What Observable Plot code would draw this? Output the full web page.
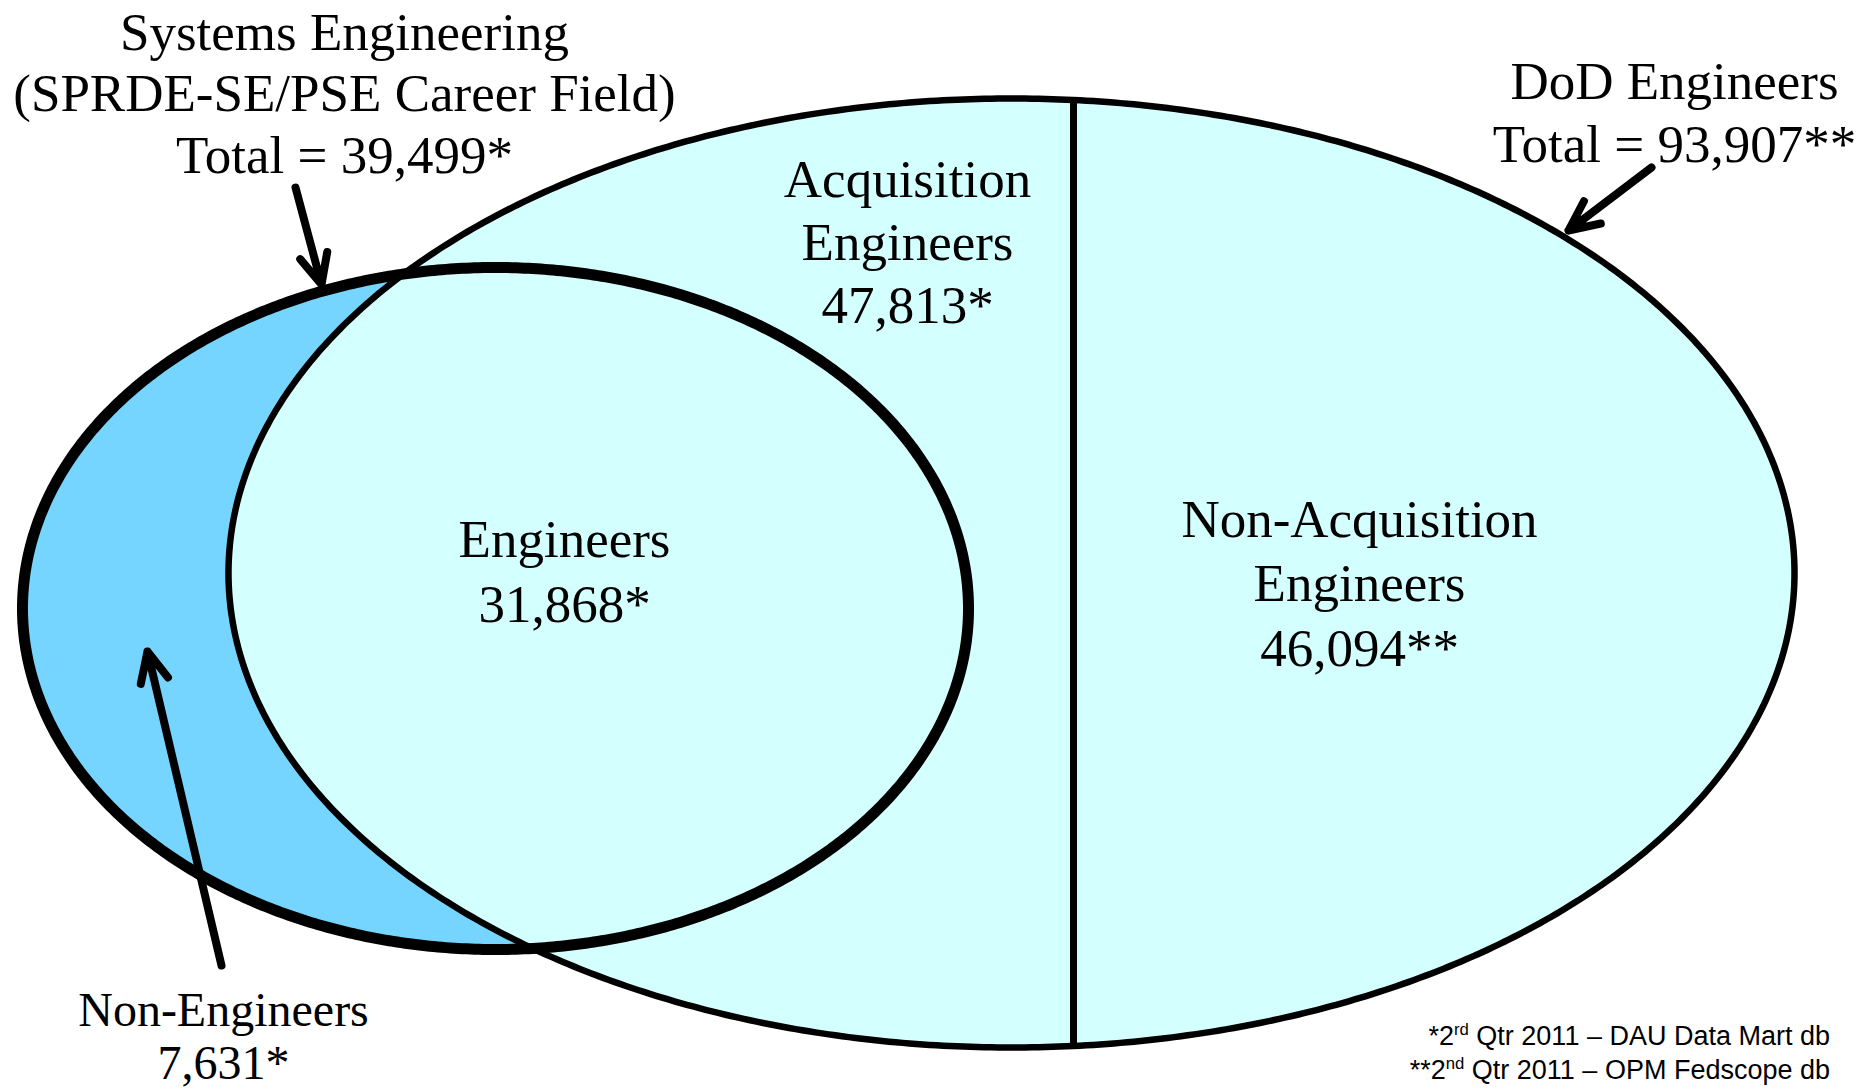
<!DOCTYPE html>
<html>
<head>
<meta charset="utf-8">
<script src="https://cdn.jsdelivr.net/npm/d3@7"></script>
<script src="https://cdn.jsdelivr.net/npm/@observablehq/plot@0.6"></script>
<style>
  html, body { margin: 0; padding: 0; background: #fff; }
  #wrap { position: relative; width: 1872px; height: 1089px; overflow: hidden; background: #fff; }
  #note { position: absolute; right: 42px; top: 1019px; font-family: "Liberation Sans", Arial, sans-serif;
          font-size: 27px; line-height: 34px; text-align: right; color: #000; white-space: nowrap; }
  #note sup { font-size: 0.62em; line-height: 0; vertical-align: 0.6em; }
</style>
</head>
<body>
<div id="wrap"><div id="chart"></div><div id="note"></div></div>
<script>
// ---------- data ----------
const regionNames = [
  "Systems Engineering\n(SPRDE-SE/PSE Career Field)",
  "DoD Engineers",
  "Acquisition\nEngineers",
  "Engineers",
  "Non-Acquisition\nEngineers",
  "Non-Engineers"
];
const regionCounts = [39499, 93907, 47813, 31868, 46094, 7631];
const regionSource = ["*", "**", "*", "*", "**", "*"];
const regionIsTotal = [true, true, false, false, false, false];

const footnoteMarks = ["*", "**"];
const footnoteOrdinals = [["2", "rd"], ["2", "nd"]];
const footnoteTexts = [" Qtr 2011 \u2013 DAU Data Mart db", " Qtr 2011 \u2013 OPM Fedscope db"];

// ---------- layout ----------
const W = 1872, H = 1089;
// ellipses: [cx, cy, rx, ry]
const seEllipse = [495, 608, 473, 341];
const dodEllipse = [1011, 572.5, 783, 474.5];
const dividerX = 1073;
const labelX = [344, 1674, 907, 564, 1359, 223];
const labelBaselines = [[49, 110, 172], [98, 161], [196, 259, 322], [556, 621], [536, 600, 665], [1025, 1078]];
const labelSize = [53, 53, 53, 53, 53, 48];
// arrows: [tailX, tailY, tipX, tipY]
const arrowsXY = [[295, 187, 321, 284], [1651, 167, 1568, 230], [221, 965, 147, 651]];

const darkBlue = "#76D5FF", lightCyan = "#D4FFFF";

function ellipsePoints([cx, cy, rx, ry], n = 720) {
  return d3.range(n).map(i => {
    const t = 2 * Math.PI * i / n;
    return {x: cx + rx * Math.cos(t), y: cy + ry * Math.sin(t)};
  });
}
const sePts = ellipsePoints(seEllipse);
const dodPts = ellipsePoints(dodEllipse);

const [dcx, dcy, drx, dry] = dodEllipse;
const half = dry * Math.sqrt(1 - ((dividerX - dcx) / drx) ** 2);
const divider = [{x: dividerX, y1: dcy - half, y2: dcy + half}];

const arrows = arrowsXY.map(([x1, y1, x2, y2]) => ({x1, y1, x2, y2}));

const fmt = d3.format(",");
const textRows = [];
regionNames.forEach((name, i) => {
  const lines = name.split("\n");
  lines.push((regionIsTotal[i] ? "Total = " : "") + fmt(regionCounts[i]) + regionSource[i]);
  lines.forEach((t, j) => textRows.push({text: t, x: labelX[i], y: labelBaselines[i][j], size: labelSize[i]}));
});

const chart = Plot.plot({
  width: W,
  height: H,
  margin: 0,
  x: {domain: [0, W], range: [0, W], axis: null},
  y: {domain: [0, H], range: [0, H], axis: null},
  style: {background: "white", overflow: "visible"},
  marks: [
    Plot.line(sePts, {x: "x", y: "y", curve: "linear-closed", fill: darkBlue, stroke: "none"}),
    Plot.line(dodPts, {x: "x", y: "y", curve: "linear-closed", fill: lightCyan, stroke: "black", strokeWidth: 6.5}),
    Plot.ruleX(divider, {x: "x", y1: "y1", y2: "y2", stroke: "black", strokeWidth: 7}),
    Plot.line(sePts, {x: "x", y: "y", curve: "linear-closed", fill: "none", stroke: "black", strokeWidth: 11}),
    Plot.arrow(arrows, {x1: "x1", y1: "y1", x2: "x2", y2: "y2", stroke: "black", strokeWidth: 8,
      headLength: 6.2, headAngle: 50, strokeLinecap: "round", strokeLinejoin: "round"}),
    Plot.text(textRows, {x: "x", y: "y", text: "text", fontSize: "size", fontFamily: "Liberation Serif",
      textAnchor: "middle", lineAnchor: "bottom", fill: "black"})
  ]
});
document.getElementById("chart").appendChild(chart);

const note = document.getElementById("note");
footnoteMarks.forEach((m, i) => {
  const div = document.createElement("div");
  div.append(m + footnoteOrdinals[i][0]);
  const sup = document.createElement("sup");
  sup.textContent = footnoteOrdinals[i][1];
  div.append(sup);
  div.append(footnoteTexts[i]);
  note.appendChild(div);
});
</script>
</body>
</html>
